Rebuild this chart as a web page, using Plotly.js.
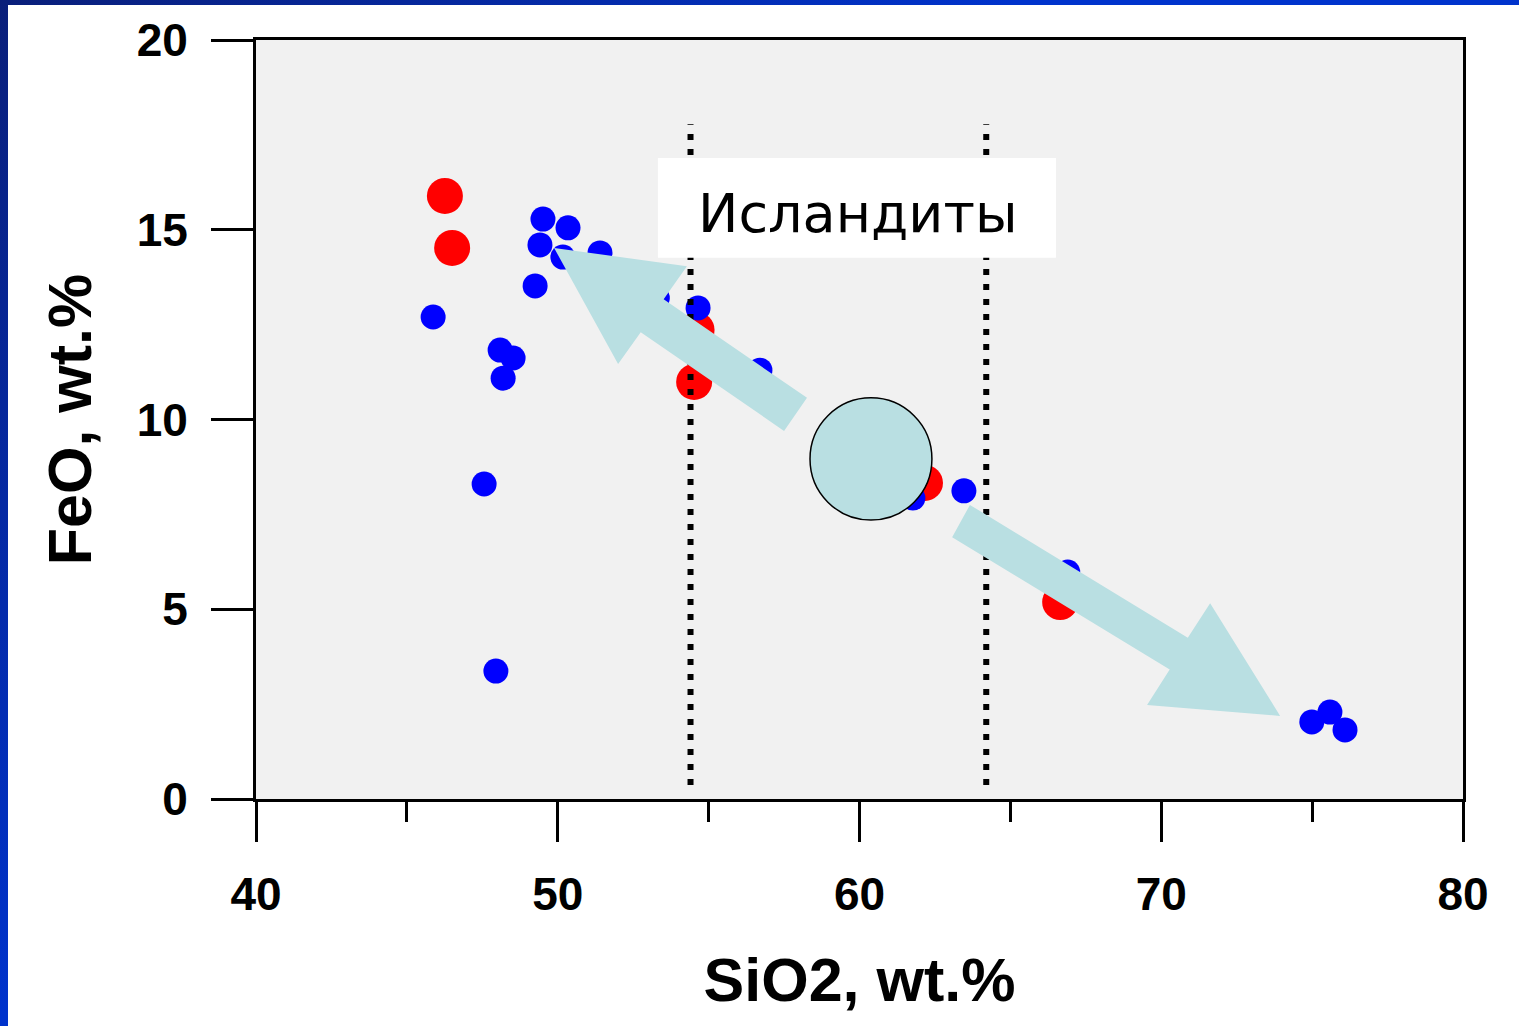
<!DOCTYPE html>
<html>
<head>
<meta charset="utf-8">
<script src="https://cdn.plot.ly/plotly-3.0.1.min.js"></script>
<style>
  html, body { margin: 0; padding: 0; width: 1519px; height: 1026px; overflow: hidden; }
  body { background: linear-gradient(135deg, #0a1f7a 0%, #0033cc 40%, #0033cc 100%); position: relative; }
  #chart { position: absolute; left: 8px; top: 5px; width: 1511px; height: 1021px; background: #ffffff; }
</style>
</head>
<body>
<div id="chart"></div>
<script>
// ---- data ----
const redSiO2  = [46.26, 46.50, 54.60, 54.52, 62.17, 66.65];
const redFeO   = [15.89, 14.52, 12.36, 10.99, 8.33, 5.19];

const blueSiO2 = [45.87, 49.51, 50.34, 49.41, 50.17, 51.40, 49.25, 48.09, 48.52, 48.19,
                  47.56, 47.95, 54.65, 56.70, 53.30, 61.77, 63.46, 66.90, 74.99, 75.59, 76.09];
const blueFeO  = [12.70, 15.28, 15.05, 14.60, 14.28, 14.39, 13.52, 11.83, 11.62, 11.09,
                  8.30, 3.37, 12.94, 11.30, 13.20, 7.93, 8.12, 5.98, 2.03, 2.29, 1.82];

const boundarySiO2 = [54.4, 64.2];       // dotted vertical boundaries
const labelText = 'Исландиты';
const xTitle = 'SiO2, wt.%';
const yTitle = 'FeO, wt.%';

// ---- decorations (arrows, circle, label box) in data units ----
const arrowFill = '#b9dfe2';
function poly(xs, ys) {
  let p = 'M ' + xs[0] + ',' + ys[0];
  for (let i = 1; i < xs.length; i++) p += ' L ' + xs[i] + ',' + ys[i];
  return p + ' Z';
}
const arrow1X = [58.26, 53.51, 54.28, 49.88, 52.00, 52.75, 57.50];
const arrow1Y = [10.57, 13.17, 14.04, 14.52, 11.46, 12.30, 9.70];
const arrow2X = [63.66, 70.88, 71.62, 73.94, 69.53, 70.28, 63.07];
const arrow2Y = [7.75, 4.25, 5.16, 2.19, 2.48, 3.41, 6.90];

const tickFont = {family: 'Liberation Sans, Arial, sans-serif', size: 46, color: '#000', weight: 'bold'};
const titleFont = {family: 'Liberation Sans, Arial, sans-serif', size: 61, color: '#000', weight: 'bold'};

const traces = [
  {x: redSiO2, y: redFeO, type: 'scatter', mode: 'markers',
   marker: {color: '#ff0000', size: 36, line: {width: 0}}, hoverinfo: 'x+y'},
  {x: blueSiO2, y: blueFeO, type: 'scatter', mode: 'markers',
   marker: {color: '#0000ff', size: 25, line: {width: 0}}, hoverinfo: 'x+y'}
];

const shapes = [];
boundarySiO2.forEach(b => shapes.push({
  type: 'line', xref: 'x', yref: 'y', x0: b, x1: b, y0: 0.37, y1: 17.78,
  line: {color: '#000', width: 6, dash: '6px,9px'}, layer: 'above'
}));
shapes.push({type: 'path', xref: 'x', yref: 'y', path: poly(arrow1X, arrow1Y),
  fillcolor: arrowFill, line: {width: 0}, layer: 'above'});
shapes.push({type: 'path', xref: 'x', yref: 'y', path: poly(arrow2X, arrow2Y),
  fillcolor: arrowFill, line: {width: 0}, layer: 'above'});
shapes.push({type: 'circle', xref: 'x', yref: 'y', x0: 58.36, x1: 62.40, y0: 7.35, y1: 10.57,
  fillcolor: arrowFill, line: {color: '#000', width: 1.5}, layer: 'above'});
shapes.push({type: 'rect', xref: 'x', yref: 'y', x0: 53.32, x1: 66.51, y0: 14.26, y1: 16.89,
  fillcolor: '#ffffff', line: {width: 0}, layer: 'above'});

const layout = {
  width: 1511, height: 1021,
  margin: {l: 248, r: 56, t: 35, b: 227, pad: 0},
  paper_bgcolor: '#ffffff',
  plot_bgcolor: '#f1f1f1',
  showlegend: false,
  xaxis: {
    range: [40, 80], dtick: 10, tick0: 40,
    showgrid: false, zeroline: false,
    showline: true, linecolor: '#000', linewidth: 3, mirror: true,
    ticks: 'outside', ticklen: 40, tickwidth: 3, tickcolor: '#000',
    minor: {dtick: 5, tick0: 40, ticks: 'outside', ticklen: 20, tickwidth: 3, tickcolor: '#000', showgrid: false},
    tickfont: tickFont, ticklabelstandoff: 13,
    title: {text: xTitle, font: titleFont, standoff: 40},
    automargin: false, fixedrange: true
  },
  yaxis: {
    range: [0, 20], dtick: 5, tick0: 0,
    showgrid: false, zeroline: false,
    showline: true, linecolor: '#000', linewidth: 3, mirror: true,
    ticks: 'outside', ticklen: 42, tickwidth: 3, tickcolor: '#000',
    tickfont: tickFont, ticklabelstandoff: 14,
    title: {text: yTitle, font: titleFont, standoff: 26},
    automargin: false, fixedrange: true
  },
  shapes: shapes,
  annotations: [{
    xref: 'x', yref: 'y', x: 59.95, y: 15.42, text: labelText, showarrow: false,
    font: {family: 'DejaVu Sans, sans-serif', size: 54, color: '#000'},
    xanchor: 'center', yanchor: 'middle'
  }]
};

Plotly.newPlot('chart', traces, layout, {displayModeBar: false, staticPlot: true});
</script>
</body>
</html>
